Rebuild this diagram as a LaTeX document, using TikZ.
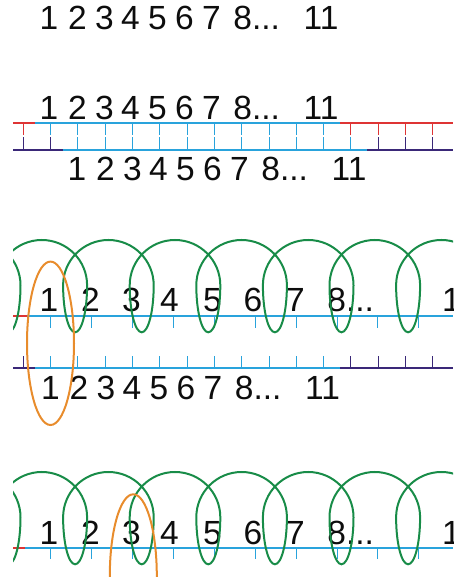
\documentclass[tikz,border=0pt]{standalone}
\usepackage{fontspec}
\setmainfont{Liberation Sans}
\definecolor{cblue}{RGB}{41,163,220}
\definecolor{cred}{RGB}{222,52,52}
\definecolor{cpurp}{RGB}{58,40,120}
\definecolor{cgreen}{RGB}{24,140,72}
\definecolor{corange}{RGB}{232,140,44}
\begin{document}
\begin{tikzpicture}[x=1pt,y=1pt,
  num/.style={inner sep=0pt, anchor=base, font=\fontsize{33.5}{33.5}\selectfont, text=black!95},
  numw/.style={num, anchor=base west},
  strand/.style={line width=2pt},
  tooth/.style={line width=1pt},
  coil/.style={cgreen, line width=2pt},
  ring/.style={corange, line width=2pt}]
\useasboundingbox (0,0) rectangle (453,577);

% ---------- row 1 ----------
\foreach \k/\x in {1/49,2/77.5,3/104.5,4/130.5,5/157.5,6/184.5,7/211.5}
  \node[num] (a\k) at (\x,547) {\k};
\node[numw] (a8) at (233.2,547) {8...};
\node[num] (a11) at (321,547) {11};

% ---------- row 2 ----------
\foreach \k/\x in {1/49,2/77.5,3/104.5,4/130.5,5/157.5,6/184.5,7/211.5}
  \node[num] (b\k) at (\x,457.7) {\k};
\node[numw] (b8) at (233.2,457.7) {8...};
\node[num] (b11) at (321,457.7) {11};

\foreach \k/\x in {1/49,2/77.5,3/104.5,4/130.5,5/157.5,6/184.5,7/211.5}
  \node[num] (c\k) at ({\x+28},396.3) {\k};
\node[numw] (c8) at (261.2,396.3) {8...};
\node[num] (c11) at (349,396.3) {11};

% teeth of the upper strand
\foreach \k in {0,...,15}{
  \pgfmathsetmacro{\tx}{23.3+27.3*\k}
  \ifnum\k=0 \def\tc{cred}\else\ifnum\k>11 \def\tc{cred}\else\def\tc{cblue}\fi\fi
  \draw[tooth,\tc] (\tx,454.3) -- (\tx,442);
}
% teeth of the lower strand
\foreach \k in {0,...,15}{
  \pgfmathsetmacro{\tx}{23.3+27.3*\k}
  \ifnum\k<2 \def\tc{cpurp}\else\ifnum\k>12 \def\tc{cpurp}\else\def\tc{cblue}\fi\fi
  \draw[tooth,\tc] (\tx,426.7) -- (\tx,440);
}
\draw[strand,cred] (13,454.3) -- (35,454.3);
\draw[strand,cblue] (35,454.3) -- (340,454.3);
\draw[strand,cred] (340,454.3) -- (453,454.3);
\draw[strand,cpurp] (13,426.7) -- (63,426.7);
\draw[strand,cblue] (63,426.7) -- (367,426.7);
\draw[strand,cpurp] (367,426.7) -- (453,426.7);

% ---------- row 4 ----------
\foreach \k/\x in {1/49,2/77.5,3/104.5,4/130.5,5/157.5,6/184.5,7/211.5}
  \node[num] (e\k) at ({\x+1.5},177) {\k};
\node[numw] (e8) at (234.7,177) {8...};
\node[num] (e11) at (322.5,177) {11};
\foreach \k in {0,...,15}{
  \pgfmathsetmacro{\tx}{23.3+27.3*\k}
  \ifnum\k=0 \def\tc{cpurp}\else\ifnum\k>11 \def\tc{cpurp}\else\def\tc{cblue}\fi\fi
  \draw[tooth,\tc] (\tx,208.7) -- (\tx,221);
}
\draw[strand,cpurp] (13,208.7) -- (35,208.7);
\draw[strand,cblue] (35,208.7) -- (340,208.7);
\draw[strand,cpurp] (340,208.7) -- (453,208.7);

\begin{scope}
\clip (13,0) rectangle (453,577);
% ---------- row 3 ----------
\foreach \k/\x in {1/49,2/90.5,3/131.5,4/169.5,5/212.5,6/253,7/295.5}
  \node[num] (d\k) at (\x,265) {\k};
\node[numw] (d8) at (327.2,265) {8...};
\node[num] (d11) at (459.5,265) {11};
\foreach \k in {0,...,9}
  \draw[tooth,cblue] ({50.7+40.9*\k},261) -- ({50.7+40.9*\k},249);
\draw[strand,cred] (13,261) -- (27,261);
\draw[strand,cblue] (27,261) -- (453,261);
\draw[coil] (-70.1,291.7) foreach \i in {1,...,9}{
  arc[start angle=180,end angle=0,radius=45.3]
  arc[start angle=0,end angle=-180,x radius=12,y radius=47]};

% ---------- row 5 ----------
\foreach \k/\x in {1/49,2/90.5,3/131.5,4/169.5,5/212.5,6/253,7/295.5}
  \node[num] (f\k) at (\x,32.5) {\k};
\node[numw] (f8) at (327.2,32.5) {8...};
\node[num] (f11) at (459.5,32.5) {11};
\foreach \k in {0,...,9}
  \draw[tooth,cblue] ({50.7+40.9*\k},29.3) -- ({50.7+40.9*\k},18);
\draw[strand,cred] (13,29.3) -- (25,29.3);
\draw[strand,cblue] (25,29.3) -- (453,29.3);
\draw[coil] (-70.1,59.7) foreach \i in {1,...,9}{
  arc[start angle=180,end angle=0,radius=45.3]
  arc[start angle=0,end angle=-180,x radius=12,y radius=47]};

% ---------- orange rings ----------
\draw[ring] (50.5,233.7) ellipse[x radius=23.5,y radius=81.7];
\draw[ring] (133.3,1) ellipse[x radius=23.5,y radius=81.7];
\end{scope}
\end{tikzpicture}
\end{document}
